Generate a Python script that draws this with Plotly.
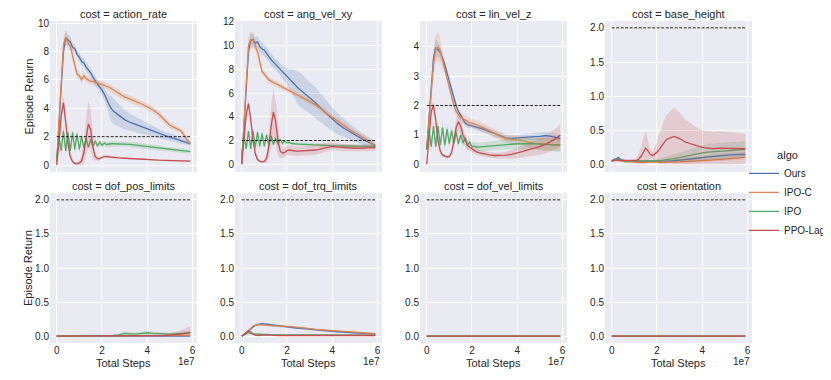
import plotly.graph_objects as go
from plotly.subplots import make_subplots

# x positions of the read-off points, in units of 1e7 environment steps
steps = [0.0, 0.1, 0.2, 0.3, 0.4, 0.5, 0.6, 0.7, 0.8, 0.9,
         1.0, 1.1, 1.2, 1.3, 1.4, 1.5, 1.6, 1.7, 1.8, 1.9,
         2.0, 2.1, 2.2, 2.3, 2.4, 2.5, 2.75, 3.0, 3.25, 3.5,
         3.75, 4.0, 4.25, 4.5, 4.75, 5.0, 5.25, 5.5, 5.75, 5.9]

algos = ["Ours", "IPO-C", "IPO", "PPO-Lag"]
costs = ["action_rate", "ang_vel_xy", "lin_vel_z", "base_height",
         "dof_pos_limits", "dof_trq_limits", "dof_vel_limits", "orientation"]
cost_limit = 2.0

# ---- action_rate ----
action_rate_ours = [0.2, 2.5, 5.5, 8.0, 9.0, 8.8, 8.7, 8.3, 8.2, 7.8,
                    7.6, 7.3, 7.2, 6.9, 6.7, 6.5, 6.2, 5.9, 5.7, 5.5,
                    5.3, 5.0, 4.6, 4.3, 4.0, 3.8, 3.5, 3.2, 3.0, 2.85,
                    2.65, 2.5, 2.35, 2.2, 2.05, 1.95, 1.85, 1.7, 1.6, 1.5]
action_rate_ours_sd = [0.1, 0.3, 0.4, 0.5, 0.5, 0.4, 0.4, 0.3, 0.3, 0.3,
                       0.3, 0.3, 0.3, 0.3, 0.3, 0.3, 0.3, 0.3, 0.3, 0.35,
                       0.4, 0.4, 0.5, 0.6, 0.9, 0.9, 0.8, 0.7, 0.6, 0.55,
                       0.5, 0.45, 0.4, 0.35, 0.3, 0.3, 0.25, 0.2, 0.2, 0.15]
action_rate_ipoc = [0.2, 2.8, 6.0, 8.5, 9.0, 8.6, 8.4, 7.8, 7.0, 6.4,
                    6.3, 6.0, 6.3, 6.1, 6.0, 5.9, 5.9, 5.8, 5.8, 5.7,
                    5.7, 5.6, 5.55, 5.5, 5.4, 5.3, 5.05, 4.8, 4.65, 4.5,
                    4.3, 4.1, 3.9, 3.6, 3.2, 2.8, 2.6, 2.4, 1.8, 1.5]
action_rate_ipoc_sd = [0.1, 0.3, 0.4, 0.5, 0.5, 0.4, 0.4, 0.4, 0.3, 0.3,
                       0.25, 0.25, 0.25, 0.25, 0.25, 0.25, 0.25, 0.25, 0.25, 0.25,
                       0.25, 0.25, 0.25, 0.25, 0.25, 0.25, 0.25, 0.25, 0.25, 0.25,
                       0.25, 0.25, 0.25, 0.25, 0.25, 0.2, 0.2, 0.2, 0.2, 0.15]
action_rate_ipo = [0.5, 1.9, 1.0, 2.4, 1.0, 2.3, 1.0, 2.3, 1.1, 2.2,
                   1.1, 2.0, 1.2, 1.9, 1.25, 1.8, 1.3, 1.7, 1.35, 1.6,
                   1.4, 1.55, 1.45, 1.5, 1.5, 1.5, 1.5, 1.5, 1.45, 1.4,
                   1.35, 1.3, 1.25, 1.2, 1.15, 1.1, 1.05, 1.0, 0.98, 0.95]
action_rate_ipo_sd = [0.1, 0.3, 0.3, 0.3, 0.3, 0.3, 0.3, 0.3, 0.25, 0.25,
                      0.25, 0.25, 0.2, 0.2, 0.2, 0.2, 0.2, 0.2, 0.2, 0.2,
                      0.2, 0.2, 0.2, 0.2, 0.2, 0.2, 0.2, 0.2, 0.2, 0.2,
                      0.18, 0.18, 0.17, 0.17, 0.16, 0.16, 0.15, 0.15, 0.15, 0.15]
action_rate_ppolag = [0.0, 1.5, 3.5, 4.4, 3.0, 1.5, 0.6, 0.25, 0.12, 0.1,
                      0.15, 0.3, 0.9, 2.0, 2.9, 2.5, 1.3, 0.6, 0.45, 0.45,
                      0.55, 0.6, 0.6, 0.58, 0.55, 0.52, 0.5, 0.48, 0.45, 0.42,
                      0.4, 0.38, 0.36, 0.34, 0.33, 0.32, 0.31, 0.3, 0.29, 0.28]
action_rate_ppolag_sd = [0.0, 0.3, 0.5, 0.5, 0.5, 0.4, 0.2, 0.1, 0.1, 0.1,
                         0.15, 0.3, 0.8, 1.3, 1.6, 1.4, 0.8, 0.3, 0.15, 0.15,
                         0.12, 0.1, 0.1, 0.1, 0.08, 0.08, 0.07, 0.06, 0.06, 0.06,
                         0.05, 0.05, 0.05, 0.05, 0.05, 0.05, 0.05, 0.05, 0.05, 0.05]

# ---- ang_vel_xy ----
ang_vel_xy_ours = [0.0, 3.0, 6.5, 9.5, 10.4, 10.5, 10.2, 10.3, 9.9, 9.7,
                   9.6, 9.3, 9.1, 8.8, 8.6, 8.4, 8.2, 8.0, 7.8, 7.6,
                   7.4, 7.2, 7.0, 6.8, 6.6, 6.4, 6.0, 5.6, 5.2, 4.7,
                   4.25, 3.8, 3.4, 3.05, 2.75, 2.45, 2.2, 1.95, 1.75, 1.6]
ang_vel_xy_ours_sd = [0.0, 0.4, 0.5, 0.6, 0.6, 0.6, 0.5, 0.5, 0.5, 0.5,
                      0.5, 0.5, 0.5, 0.5, 0.5, 0.5, 0.5, 0.5, 0.5, 0.6,
                      0.7, 0.8, 1.0, 1.2, 1.3, 1.4, 1.4, 1.3, 1.3, 1.2,
                      1.1, 1.0, 0.9, 0.8, 0.7, 0.6, 0.5, 0.45, 0.4, 0.3]
ang_vel_xy_ipoc = [0.0, 3.3, 7.0, 10.0, 10.5, 10.4, 10.0, 9.5, 8.6, 7.8,
                   7.6, 7.3, 7.1, 7.0, 6.9, 6.8, 6.7, 6.6, 6.5, 6.4,
                   6.3, 6.2, 6.1, 6.0, 5.95, 5.85, 5.6, 5.3, 5.0, 4.7,
                   4.3, 3.95, 3.6, 3.3, 2.95, 2.65, 2.4, 2.1, 1.75, 1.5]
ang_vel_xy_ipoc_sd = [0.0, 0.4, 0.5, 0.7, 0.7, 0.6, 0.5, 0.4, 0.4, 0.3,
                      0.25, 0.25, 0.25, 0.25, 0.25, 0.25, 0.25, 0.25, 0.25, 0.25,
                      0.25, 0.25, 0.25, 0.25, 0.25, 0.25, 0.25, 0.25, 0.25, 0.25,
                      0.25, 0.25, 0.25, 0.2, 0.2, 0.2, 0.2, 0.2, 0.2, 0.2]
ang_vel_xy_ipo = [0.8, 2.5, 1.3, 2.8, 1.3, 2.8, 1.4, 2.7, 1.5, 2.6,
                  1.5, 2.5, 1.6, 2.4, 1.65, 2.2, 1.7, 2.1, 1.75, 1.95,
                  1.8, 1.85, 1.75, 1.75, 1.72, 1.7, 1.68, 1.65, 1.62, 1.6,
                  1.58, 1.56, 1.55, 1.54, 1.53, 1.52, 1.51, 1.5, 1.5, 1.5]
ang_vel_xy_ipo_sd = [0.1, 0.3, 0.3, 0.3, 0.3, 0.3, 0.3, 0.3, 0.3, 0.3,
                     0.25, 0.25, 0.25, 0.25, 0.2, 0.2, 0.2, 0.2, 0.2, 0.2,
                     0.15, 0.15, 0.15, 0.15, 0.15, 0.15, 0.15, 0.15, 0.15, 0.15,
                     0.15, 0.15, 0.15, 0.15, 0.15, 0.15, 0.15, 0.15, 0.15, 0.15]
ang_vel_xy_ppolag = [0.0, 2.0, 4.2, 5.1, 3.8, 2.0, 0.9, 0.4, 0.25, 0.2,
                     0.25, 0.5, 1.5, 3.2, 4.4, 3.6, 2.0, 1.1, 0.95, 1.0,
                     1.15, 1.2, 1.15, 1.1, 1.1, 1.1, 1.12, 1.15, 1.2, 1.3,
                     1.4, 1.5, 1.45, 1.4, 1.35, 1.35, 1.35, 1.4, 1.4, 1.4]
ang_vel_xy_ppolag_sd = [0.0, 0.3, 0.4, 0.4, 0.4, 0.3, 0.2, 0.15, 0.1, 0.1,
                        0.15, 0.4, 1.0, 1.7, 2.0, 1.8, 1.2, 0.6, 0.4, 0.4,
                        0.4, 0.4, 0.4, 0.4, 0.4, 0.4, 0.4, 0.4, 0.4, 0.4,
                        0.35, 0.35, 0.3, 0.3, 0.3, 0.3, 0.3, 0.3, 0.3, 0.3]

# ---- lin_vel_z ----
lin_vel_z_ours = [0.5, 1.5, 2.7, 3.6, 3.95, 3.9, 3.8, 3.6, 3.4, 3.1,
                  2.8, 2.5, 2.2, 2.0, 1.8, 1.65, 1.5, 1.4, 1.35, 1.33,
                  1.32, 1.3, 1.27, 1.25, 1.22, 1.2, 1.12, 1.05, 0.97, 0.9,
                  0.88, 0.9, 0.92, 0.93, 0.94, 0.95, 0.98, 0.95, 0.92, 0.88]
lin_vel_z_ours_sd = [0.05, 0.2, 0.25, 0.3, 0.3, 0.25, 0.2, 0.15, 0.15, 0.12,
                     0.12, 0.12, 0.1, 0.1, 0.1, 0.1, 0.1, 0.1, 0.1, 0.1,
                     0.1, 0.1, 0.1, 0.1, 0.1, 0.1, 0.1, 0.1, 0.1, 0.1,
                     0.1, 0.1, 0.1, 0.1, 0.1, 0.12, 0.12, 0.12, 0.12, 0.12]
lin_vel_z_ipoc = [0.5, 1.4, 2.5, 3.4, 3.9, 4.0, 3.85, 3.55, 3.3, 2.95,
                  2.6, 2.3, 2.0, 1.8, 1.7, 1.6, 1.55, 1.5, 1.45, 1.42,
                  1.4, 1.38, 1.35, 1.32, 1.28, 1.25, 1.15, 1.05, 0.95, 0.88,
                  0.84, 0.82, 0.8, 0.75, 0.71, 0.7, 0.68, 0.66, 0.66, 0.66]
lin_vel_z_ipoc_sd = [0.05, 0.2, 0.3, 0.4, 0.5, 0.5, 0.4, 0.3, 0.2, 0.15,
                     0.15, 0.15, 0.15, 0.15, 0.15, 0.15, 0.15, 0.15, 0.15, 0.15,
                     0.15, 0.15, 0.15, 0.15, 0.15, 0.15, 0.15, 0.15, 0.15, 0.15,
                     0.15, 0.15, 0.17, 0.18, 0.18, 0.2, 0.2, 0.2, 0.2, 0.2]
lin_vel_z_ipo = [0.5, 1.2, 0.6, 1.3, 0.6, 1.3, 0.65, 1.25, 0.65, 1.2,
                 0.7, 1.15, 0.7, 1.1, 0.7, 1.0, 0.72, 0.9, 0.65, 0.75,
                 0.6, 0.62, 0.58, 0.58, 0.6, 0.6, 0.62, 0.64, 0.66, 0.68,
                 0.7, 0.7, 0.7, 0.71, 0.7, 0.69, 0.68, 0.67, 0.66, 0.65]
lin_vel_z_ipo_sd = [0.05, 0.2, 0.2, 0.2, 0.2, 0.2, 0.2, 0.2, 0.2, 0.2,
                    0.18, 0.18, 0.18, 0.18, 0.15, 0.15, 0.15, 0.15, 0.15, 0.15,
                    0.15, 0.15, 0.15, 0.15, 0.15, 0.15, 0.15, 0.15, 0.17, 0.17,
                    0.18, 0.18, 0.2, 0.2, 0.2, 0.22, 0.22, 0.22, 0.23, 0.23]
lin_vel_z_ppolag = [0.0, 1.0, 1.8, 2.0, 1.5, 0.8, 0.45, 0.32, 0.27, 0.25,
                    0.27, 0.4, 0.8, 1.25, 1.45, 1.3, 1.0, 0.8, 0.65, 0.58,
                    0.52, 0.46, 0.42, 0.4, 0.38, 0.36, 0.32, 0.3, 0.3, 0.31,
                    0.34, 0.38, 0.44, 0.5, 0.55, 0.6, 0.68, 0.78, 0.9, 1.0]
lin_vel_z_ppolag_sd = [0.0, 0.1, 0.15, 0.15, 0.15, 0.1, 0.08, 0.06, 0.05, 0.05,
                       0.06, 0.1, 0.2, 0.3, 0.3, 0.3, 0.25, 0.2, 0.15, 0.12,
                       0.1, 0.1, 0.1, 0.1, 0.1, 0.1, 0.1, 0.1, 0.1, 0.12,
                       0.15, 0.18, 0.2, 0.22, 0.25, 0.28, 0.3, 0.33, 0.35, 0.38]

# ---- base_height ----
base_height_ours = [0.05, 0.07, 0.08, 0.1, 0.07, 0.06, 0.06, 0.05, 0.05, 0.05,
                    0.045, 0.045, 0.045, 0.04, 0.04, 0.04, 0.04, 0.04, 0.04, 0.04,
                    0.04, 0.04, 0.04, 0.042, 0.045, 0.048, 0.055, 0.062, 0.07, 0.08,
                    0.09, 0.1, 0.11, 0.12, 0.128, 0.135, 0.14, 0.145, 0.15, 0.15]
base_height_ours_sd = [0.01, 0.01, 0.015, 0.02, 0.015, 0.01, 0.01, 0.01, 0.01, 0.01,
                       0.01, 0.01, 0.01, 0.01, 0.01, 0.01, 0.01, 0.01, 0.01, 0.01,
                       0.01, 0.01, 0.01, 0.01, 0.012, 0.012, 0.015, 0.015, 0.018, 0.02,
                       0.02, 0.022, 0.025, 0.025, 0.028, 0.03, 0.03, 0.03, 0.03, 0.03]
base_height_ipoc = [0.05, 0.06, 0.07, 0.06, 0.05, 0.045, 0.04, 0.04, 0.035, 0.035,
                    0.03, 0.03, 0.03, 0.03, 0.03, 0.03, 0.03, 0.03, 0.03, 0.03,
                    0.03, 0.03, 0.03, 0.03, 0.03, 0.032, 0.035, 0.038, 0.042, 0.046,
                    0.05, 0.055, 0.06, 0.066, 0.072, 0.078, 0.085, 0.092, 0.1, 0.105]
base_height_ipoc_sd = [0.01, 0.01, 0.01, 0.01, 0.01, 0.01, 0.01, 0.01, 0.01, 0.01,
                       0.01, 0.01, 0.01, 0.01, 0.01, 0.01, 0.01, 0.01, 0.01, 0.01,
                       0.01, 0.01, 0.01, 0.01, 0.01, 0.012, 0.014, 0.016, 0.018, 0.02,
                       0.02, 0.022, 0.024, 0.025, 0.026, 0.028, 0.03, 0.03, 0.03, 0.03]
base_height_ipo = [0.05, 0.06, 0.07, 0.08, 0.06, 0.05, 0.05, 0.05, 0.05, 0.05,
                   0.05, 0.05, 0.05, 0.05, 0.05, 0.05, 0.05, 0.05, 0.05, 0.05,
                   0.055, 0.058, 0.06, 0.065, 0.068, 0.072, 0.085, 0.1, 0.12, 0.14,
                   0.155, 0.17, 0.18, 0.19, 0.195, 0.2, 0.205, 0.21, 0.215, 0.22]
base_height_ipo_sd = [0.01, 0.01, 0.015, 0.015, 0.01, 0.01, 0.01, 0.01, 0.01, 0.01,
                      0.01, 0.01, 0.01, 0.01, 0.01, 0.01, 0.01, 0.01, 0.015, 0.02,
                      0.025, 0.03, 0.035, 0.04, 0.045, 0.05, 0.06, 0.07, 0.08, 0.09,
                      0.1, 0.11, 0.12, 0.12, 0.12, 0.12, 0.12, 0.12, 0.12, 0.12]
base_height_ppolag = [0.05, 0.07, 0.06, 0.06, 0.05, 0.05, 0.05, 0.05, 0.05, 0.05,
                      0.05, 0.06, 0.08, 0.12, 0.18, 0.24, 0.2, 0.15, 0.13, 0.15,
                      0.18, 0.22, 0.27, 0.32, 0.36, 0.38, 0.41, 0.38, 0.33, 0.3,
                      0.27, 0.25, 0.24, 0.23, 0.24, 0.24, 0.24, 0.23, 0.23, 0.23]
base_height_ppolag_sd = [0.01, 0.02, 0.02, 0.02, 0.01, 0.01, 0.01, 0.01, 0.01, 0.01,
                         0.01, 0.03, 0.08, 0.15, 0.22, 0.26, 0.15, 0.07, 0.05, 0.1,
                         0.15, 0.22, 0.28, 0.32, 0.35, 0.37, 0.42, 0.38, 0.33, 0.3,
                         0.27, 0.25, 0.25, 0.25, 0.25, 0.24, 0.24, 0.23, 0.23, 0.22]

# ---- dof_pos_limits ----
dof_pos_limits_ours = [0.003] * len(steps)
dof_pos_limits_ours_sd = [0.002] * len(steps)
dof_pos_limits_ipoc = [0.005, 0.005, 0.005, 0.005, 0.005, 0.005, 0.005, 0.005, 0.005, 0.005,
                       0.005, 0.005, 0.005, 0.005, 0.005, 0.005, 0.005, 0.005, 0.005, 0.005,
                       0.005, 0.005, 0.005, 0.005, 0.005, 0.005, 0.005, 0.005, 0.005, 0.005,
                       0.005, 0.005, 0.006, 0.007, 0.008, 0.009, 0.01, 0.011, 0.012, 0.012]
dof_pos_limits_ipoc_sd = [0.003] * len(steps)
dof_pos_limits_ipo = [0.0, 0.0, 0.0, 0.0, 0.0, 0.0, 0.0, 0.0, 0.0, 0.0,
                      0.0, 0.0, 0.0, 0.0, 0.0, 0.0, 0.0, 0.0, 0.0, 0.0,
                      0.0, 0.002, 0.004, 0.006, 0.008, 0.01, 0.02, 0.04, 0.035, 0.03,
                      0.04, 0.05, 0.04, 0.035, 0.03, 0.03, 0.035, 0.04, 0.05, 0.05]
dof_pos_limits_ipo_sd = [0.0, 0.0, 0.0, 0.0, 0.0, 0.0, 0.0, 0.0, 0.0, 0.0,
                         0.0, 0.0, 0.0, 0.0, 0.0, 0.0, 0.0, 0.0, 0.0, 0.0,
                         0.0, 0.002, 0.004, 0.006, 0.008, 0.01, 0.02, 0.03, 0.025, 0.025,
                         0.03, 0.03, 0.03, 0.025, 0.02, 0.02, 0.025, 0.025, 0.03, 0.03]
dof_pos_limits_ppolag = [0.0, 0.0, 0.0, 0.0, 0.0, 0.0, 0.0, 0.0, 0.0, 0.0,
                         0.0, 0.0, 0.0, 0.0, 0.0, 0.0, 0.0, 0.0, 0.0, 0.0,
                         0.0, 0.0, 0.0, 0.0, 0.0, 0.0, 0.0, 0.0, 0.0, 0.0,
                         0.0, 0.0, 0.0, 0.005, 0.01, 0.015, 0.02, 0.03, 0.045, 0.055]
dof_pos_limits_ppolag_sd = [0.0, 0.0, 0.0, 0.0, 0.0, 0.0, 0.0, 0.0, 0.0, 0.0,
                            0.0, 0.0, 0.0, 0.0, 0.0, 0.0, 0.0, 0.0, 0.0, 0.0,
                            0.0, 0.0, 0.0, 0.0, 0.0, 0.0, 0.0, 0.0, 0.0, 0.0,
                            0.0, 0.0, 0.0, 0.01, 0.02, 0.03, 0.04, 0.06, 0.08, 0.09]

# ---- dof_trq_limits ----
dof_trq_limits_ours = [0.0, 0.02, 0.05, 0.08, 0.11, 0.14, 0.16, 0.17, 0.18, 0.185,
                       0.18, 0.175, 0.17, 0.165, 0.16, 0.155, 0.15, 0.145, 0.14, 0.14,
                       0.135, 0.13, 0.13, 0.125, 0.12, 0.12, 0.11, 0.1, 0.095, 0.09,
                       0.08, 0.07, 0.065, 0.06, 0.055, 0.05, 0.045, 0.04, 0.035, 0.03]
dof_trq_limits_ours_sd = [0.0, 0.005, 0.01, 0.015, 0.015, 0.015, 0.015, 0.015, 0.015, 0.015,
                          0.015, 0.015, 0.015, 0.015, 0.015, 0.015, 0.015, 0.015, 0.015, 0.015,
                          0.015, 0.015, 0.015, 0.015, 0.015, 0.015, 0.015, 0.015, 0.015, 0.015,
                          0.015, 0.015, 0.015, 0.015, 0.015, 0.015, 0.015, 0.015, 0.015, 0.015]
dof_trq_limits_ipoc = [0.0, 0.02, 0.04, 0.08, 0.12, 0.15, 0.16, 0.17, 0.17, 0.165,
                       0.16, 0.155, 0.155, 0.15, 0.15, 0.15, 0.15, 0.15, 0.15, 0.145,
                       0.145, 0.14, 0.14, 0.135, 0.13, 0.13, 0.12, 0.11, 0.1, 0.095,
                       0.09, 0.085, 0.08, 0.07, 0.065, 0.06, 0.05, 0.045, 0.04, 0.035]
dof_trq_limits_ipoc_sd = [0.0, 0.005, 0.01, 0.01, 0.01, 0.01, 0.01, 0.01, 0.01, 0.01,
                          0.01, 0.01, 0.01, 0.01, 0.01, 0.01, 0.01, 0.01, 0.01, 0.01,
                          0.01, 0.01, 0.01, 0.01, 0.01, 0.01, 0.01, 0.01, 0.01, 0.01,
                          0.01, 0.01, 0.01, 0.01, 0.01, 0.01, 0.01, 0.01, 0.01, 0.01]
dof_trq_limits_ipo = [0.0, 0.02, 0.04, 0.05, 0.04, 0.03, 0.035, 0.03, 0.03, 0.025,
                      0.025, 0.025, 0.02, 0.02, 0.02, 0.02, 0.02, 0.02, 0.02, 0.02,
                      0.02, 0.02, 0.02, 0.02, 0.02, 0.02, 0.02, 0.02, 0.02, 0.02,
                      0.02, 0.02, 0.018, 0.018, 0.017, 0.016, 0.016, 0.015, 0.015, 0.015]
dof_trq_limits_ipo_sd = [0.0, 0.005, 0.01, 0.01, 0.01, 0.01, 0.01, 0.01, 0.01, 0.01,
                         0.01, 0.01, 0.01, 0.01, 0.01, 0.01, 0.01, 0.01, 0.01, 0.01,
                         0.01, 0.01, 0.01, 0.01, 0.01, 0.01, 0.01, 0.01, 0.01, 0.01,
                         0.01, 0.01, 0.01, 0.01, 0.01, 0.01, 0.01, 0.01, 0.01, 0.01]
dof_trq_limits_ppolag = [0.0, 0.03, 0.06, 0.08, 0.06, 0.03, 0.015, 0.01, 0.01, 0.015,
                         0.02, 0.02, 0.02, 0.015, 0.01, 0.01, 0.01, 0.01, 0.01, 0.01,
                         0.01, 0.01, 0.01, 0.01, 0.01, 0.01, 0.01, 0.01, 0.01, 0.01,
                         0.01, 0.01, 0.01, 0.01, 0.01, 0.01, 0.01, 0.01, 0.01, 0.01]
dof_trq_limits_ppolag_sd = [0.0, 0.01, 0.015, 0.015, 0.015, 0.01, 0.005, 0.005, 0.005, 0.005,
                            0.005, 0.005, 0.005, 0.005, 0.005, 0.005, 0.005, 0.005, 0.005, 0.005,
                            0.005, 0.005, 0.005, 0.005, 0.005, 0.005, 0.005, 0.005, 0.005, 0.005,
                            0.005, 0.005, 0.005, 0.005, 0.005, 0.005, 0.005, 0.005, 0.005, 0.005]

# ---- dof_vel_limits / orientation: never triggered ----
never_triggered = [0.0] * len(steps)

curves = {
    "action_rate": [(action_rate_ours, action_rate_ours_sd), (action_rate_ipoc, action_rate_ipoc_sd),
                    (action_rate_ipo, action_rate_ipo_sd), (action_rate_ppolag, action_rate_ppolag_sd)],
    "ang_vel_xy": [(ang_vel_xy_ours, ang_vel_xy_ours_sd), (ang_vel_xy_ipoc, ang_vel_xy_ipoc_sd),
                   (ang_vel_xy_ipo, ang_vel_xy_ipo_sd), (ang_vel_xy_ppolag, ang_vel_xy_ppolag_sd)],
    "lin_vel_z": [(lin_vel_z_ours, lin_vel_z_ours_sd), (lin_vel_z_ipoc, lin_vel_z_ipoc_sd),
                  (lin_vel_z_ipo, lin_vel_z_ipo_sd), (lin_vel_z_ppolag, lin_vel_z_ppolag_sd)],
    "base_height": [(base_height_ours, base_height_ours_sd), (base_height_ipoc, base_height_ipoc_sd),
                    (base_height_ipo, base_height_ipo_sd), (base_height_ppolag, base_height_ppolag_sd)],
    "dof_pos_limits": [(dof_pos_limits_ours, dof_pos_limits_ours_sd), (dof_pos_limits_ipoc, dof_pos_limits_ipoc_sd),
                       (dof_pos_limits_ipo, dof_pos_limits_ipo_sd), (dof_pos_limits_ppolag, dof_pos_limits_ppolag_sd)],
    "dof_trq_limits": [(dof_trq_limits_ours, dof_trq_limits_ours_sd), (dof_trq_limits_ipoc, dof_trq_limits_ipoc_sd),
                       (dof_trq_limits_ipo, dof_trq_limits_ipo_sd), (dof_trq_limits_ppolag, dof_trq_limits_ppolag_sd)],
    "dof_vel_limits": [(never_triggered, never_triggered)] * 4,
    "orientation": [(never_triggered, never_triggered)] * 4,
}

# seaborn "deep" palette
colors = ["#4C72B0", "#DD8452", "#55A868", "#C44E52"]
bands = ["rgba(76,114,176,0.2)", "rgba(221,132,82,0.2)", "rgba(85,168,104,0.2)", "rgba(196,78,82,0.2)"]

# y-axis limits / ticks per panel (matplotlib autoscale look)
y_ranges = [[-0.49, 10.15], [-0.65, 12.06], [-0.26, 4.87], [-0.11, 2.1],
            [-0.1, 2.1], [-0.1, 2.1], [-0.1, 2.1], [-0.1, 2.1]]
y_dticks = [2, 2, 1, 0.5, 0.5, 0.5, 0.5, 0.5]

# the page body keeps an 8px margin, so the figure is drawn 8px smaller and
# every layout position below is given in window pixels, shifted by OFF
OFF = 8
W, H = 831 - OFF, 380 - OFF
lefts = [50, 235, 420, 605]
pw = 147
rows_px = [(21, 172), (193, 343)]


def px(xw):
    return (xw - OFF) / W


def py(yw):
    return 1 - (yw - OFF) / H


x = [s * 1e7 for s in steps]

fig = make_subplots(rows=2, cols=4)
for k, cost in enumerate(costs):
    r, c = k // 4 + 1, k % 4 + 1
    for j, (mean, sd) in enumerate(curves[cost]):
        hi = [m + s for m, s in zip(mean, sd)]
        lo = [max(m - s, 0.0) for m, s in zip(mean, sd)]
        fig.add_trace(go.Scatter(x=x + x[::-1], y=hi + lo[::-1], fill="toself",
                                 fillcolor=bands[j], line=dict(width=0), hoverinfo="skip",
                                 showlegend=False, mode="lines"), row=r, col=c)
        fig.add_trace(go.Scatter(x=x, y=mean, mode="lines", name=algos[j],
                                 line=dict(color=colors[j], width=1.3),
                                 showlegend=(k == 0), legendgroup=algos[j]), row=r, col=c)
    fig.add_trace(go.Scatter(x=[x[0], x[-1]], y=[cost_limit, cost_limit], mode="lines",
                             line=dict(color="#222222", width=1, dash="3px,1.5px"),
                             showlegend=False, hoverinfo="skip"), row=r, col=c)

txt = "#262626"
annotations = []
for k, cost in enumerate(costs):
    row, col = k // 4, k % 4
    top, bot = rows_px[row]
    x0, x1 = lefts[col], lefts[col] + pw
    fig.update_xaxes(domain=[px(x0), px(x1)], range=[-0.295e7, 6.195e7],
                     tickvals=[0, 2e7, 4e7, 6e7], ticktext=["0", "2", "4", "6"],
                     showticklabels=(row == 1), row=row + 1, col=col + 1)
    fig.update_yaxes(domain=[py(bot), py(top)], range=y_ranges[k],
                     dtick=y_dticks[k], tick0=0,
                     tickformat=".1f" if y_dticks[k] < 1 else "d",
                     row=row + 1, col=col + 1)
    annotations.append(dict(text=f"cost = {cost}", x=px((x0 + x1) / 2), y=py(top - 7),
                            xref="paper", yref="paper", showarrow=False,
                            font=dict(size=11, color=txt), xanchor="center", yanchor="middle"))
    if row == 1:
        annotations.append(dict(text="Total Steps", x=px((x0 + x1) / 2), y=py(363),
                                xref="paper", yref="paper", showarrow=False,
                                font=dict(size=11, color=txt), xanchor="center", yanchor="middle"))
        annotations.append(dict(text="1e7", x=px(x1), y=py(361),
                                xref="paper", yref="paper", showarrow=False,
                                font=dict(size=10, color=txt), xanchor="right", yanchor="middle"))
for top, bot in rows_px:
    annotations.append(dict(text="Episode Return", x=px(28), y=py((top + bot) / 2),
                            xref="paper", yref="paper", showarrow=False, textangle=-90,
                            font=dict(size=11, color=txt), xanchor="center", yanchor="middle"))

fig.update_xaxes(showgrid=True, gridcolor="white", gridwidth=1, zeroline=False,
                 showline=False, ticks="", tickfont=dict(size=10, color=txt))
fig.update_yaxes(showgrid=True, gridcolor="white", gridwidth=1, zeroline=False,
                 showline=False, ticks="", tickfont=dict(size=10, color=txt))

fig.update_layout(
    width=W, height=H, margin=dict(l=0, r=0, t=0, b=0, autoexpand=False),
    paper_bgcolor="white", plot_bgcolor="#EAEAF2",
    font=dict(family="Liberation Sans, Arial, sans-serif", size=10, color=txt),
    annotations=annotations,
    legend=dict(title=dict(text="algo", font=dict(size=11), side="top center"),
                x=px(744), y=py(195), xanchor="left", yanchor="middle",
                font=dict(size=10), bgcolor="rgba(0,0,0,0)", tracegroupgap=0),
)

fig.write_html("out.html")
